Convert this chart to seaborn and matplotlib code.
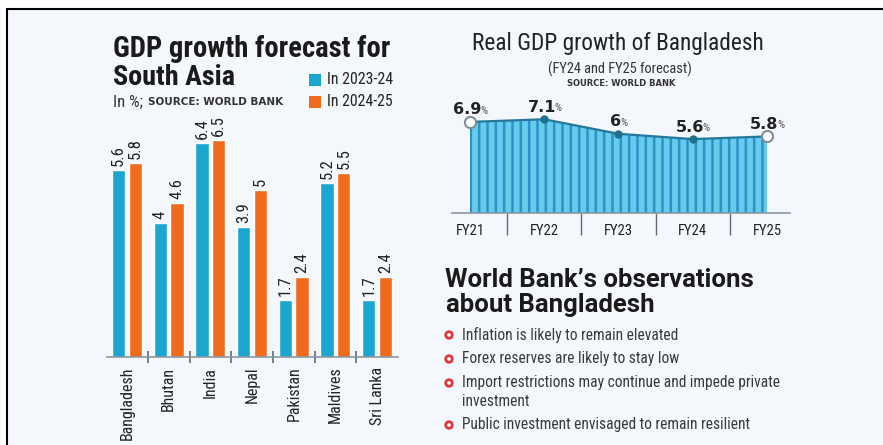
import numpy as np
import pandas as pd
import matplotlib
matplotlib.use("Agg")
import matplotlib.pyplot as plt
import seaborn as sns
from matplotlib import font_manager
from matplotlib.patches import Rectangle, Circle

# ---------------- data ----------------
countries = ["Bangladesh", "Bhutan", "India", "Nepal", "Pakistan", "Maldives", "Sri Lanka"]
gdp_2023_24 = [5.6, 4.0, 6.4, 3.9, 1.7, 5.2, 1.7]
gdp_2024_25 = [5.8, 4.6, 6.5, 5.0, 2.4, 5.5, 2.4]
periods = ["In 2023-24", "In 2024-25"]

fiscal_years = ["FY21", "FY22", "FY23", "FY24", "FY25"]
bd_growth = [6.9, 7.1, 6.0, 5.6, 5.8]

observations = [
    ["Inflation is likely to remain elevated"],
    ["Forex reserves are likely to stay low"],
    ["Import restrictions may continue and impede private", "investment"],
    ["Public investment envisaged to remain resilient"],
]

# ---------------- style ----------------
sns.set_theme(style="white")
avail = {f.name for f in font_manager.fontManager.ttflist}


def pick(*cands):
    for c in cands:
        if c in avail:
            return c
    return "DejaVu Sans"


NARROW = pick("Roboto Condensed", "Liberation Sans Narrow", "Open Sans Condensed", "DejaVu Sans")
WIDE = pick("Roboto", "Open Sans", "DejaVu Sans")
plt.rcParams["font.family"] = [NARROW, "DejaVu Sans"]
plt.rcParams["hatch.linewidth"] = 1.8

BLUE = "#1ba6cf"
ORANGE = "#f26a1e"
GREY = "#8a97a3"
BG = "#f4f7fc"

W, H = 883, 445
fig = plt.figure(figsize=(W / 100, H / 100), dpi=100)
fig.patch.set_facecolor("white")
R = fig.canvas.get_renderer()

fig.patches.append(Rectangle((7 / W, -0.05), 1.0, 1 - 9 / H + 0.05, transform=fig.transFigure,
                             facecolor=BG, edgecolor="black", linewidth=1.5, zorder=-10))


def fx(x):
    return x / W


def fy(y):
    return 1 - y / H


def ftext(x, y, s, width=None, size=10, **kw):
    t = fig.text(fx(x), fy(y), s, fontsize=size, **kw)
    if width:
        w = t.get_window_extent(R).width
        t.set_fontsize(size * width / w)
    return t


# ---------------- left: bar chart ----------------
df = pd.DataFrame({
    "country": countries * 2,
    "period": [periods[0]] * len(countries) + [periods[1]] * len(countries),
    "value": gdp_2023_24 + gdp_2024_25,
})

ax1 = fig.add_axes([107 / W, 88 / H, 291 / W, 233.8 / H])
ax1.set_facecolor("none")
sns.barplot(data=df, x="country", y="value", hue="period", hue_order=periods,
            palette=[BLUE, ORANGE], width=0.8, gap=0.2, saturation=1,
            errorbar=None, legend=False, ax=ax1)
ax1.set_xlim(-0.48, 6.5)
ax1.set_ylim(0, 7)
ax1.set_yticks([])
ax1.set_xlabel("")
ax1.set_ylabel("")
for s in ["top", "right", "left"]:
    ax1.spines[s].set_visible(False)
ax1.spines["bottom"].set_color(GREY)
ax1.spines["bottom"].set_linewidth(1.2)

for cont, vals in zip(ax1.containers, [gdp_2023_24, gdp_2024_25]):
    ax1.bar_label(cont, labels=[f"{v:g}" for v in vals], rotation=90, padding=3,
                  fontsize=12, color="#222222")

ax1.set_xticks(range(len(countries)))
ax1.set_xticklabels(countries, rotation=90, fontsize=11.5, color="#222222")
ax1.set_xticks(np.arange(0.5, len(countries) - 1, 1), minor=True)
ax1.tick_params(axis="x", which="major", length=0, pad=7)
ax1.tick_params(axis="x", which="minor", length=9, width=1.2, direction="inout", color="#5f6b76", bottom=True)

# titles / legend
ftext(113, 57, "GDP growth forecast for", width=277, size=17, weight="bold", color="#1a1a1a")
ftext(113, 85, "South Asia", width=122, size=17, weight="bold", color="#1a1a1a")
ftext(113, 102, "In %;", width=30, size=8, color="#333333", va="center")
ftext(148, 102, "SOURCE: WORLD BANK", width=135, size=5, color="#333333", va="center",
      family="DejaVu Sans", weight="bold")

for (lab, col, yc) in [(periods[0], BLUE, 80), (periods[1], ORANGE, 102)]:
    fig.patches.append(Rectangle((fx(309), fy(yc + 5.5)), 12 / W, 11 / H, transform=fig.transFigure,
                                 facecolor=col, edgecolor="none"))
    ftext(327, yc, lab, width=66, size=9, color="#222222", va="center")

# ---------------- right: area chart ----------------
ax2 = fig.add_axes([452 / W, 232 / H, 338 / W, 105.6 / H])
ax2.set_facecolor("none")
x_idx = np.arange(len(fiscal_years))
ax2.fill_between(x_idx, bd_growth, 0, facecolor="#66cbed", edgecolor="#2d93c6",
                 hatch="||", linewidth=0, zorder=1)
sns.lineplot(x=x_idx, y=bd_growth, ax=ax2, color="#23789c", linewidth=1.6, zorder=3)
yv = np.array(bd_growth)
ends = [0, len(x_idx) - 1]
mids = list(range(1, len(x_idx) - 1))
ax2.plot(x_idx[ends], yv[ends], "o", mfc="white", mec="#7f8d99", ms=8, mew=1.5,
         clip_on=False, zorder=5)
ax2.plot(x_idx[mids], yv[mids], "o", color="#1f6f8f", ms=5, clip_on=False, zorder=5)

ax2.set_xlim(-0.2424, 4.31)
ax2.set_ylim(0, 8)
ax2.set_yticks([])
for s in ["top", "right", "left"]:
    ax2.spines[s].set_visible(False)
ax2.spines["bottom"].set_color(GREY)
ax2.spines["bottom"].set_linewidth(1.2)
ax2.set_xticks(x_idx)
ax2.set_xticklabels(fiscal_years, fontsize=10.5, color="#222222")
ax2.set_xticks(np.arange(0.5, len(x_idx) - 1, 1), minor=True)
ax2.tick_params(axis="x", which="major", length=0, pad=8)
ax2.tick_params(axis="x", which="minor", length=16, width=1.0, direction="out", color="#5f6b76", bottom=True)

# value labels with small %
for i, v in enumerate(bd_growth):
    dx, dy = ax2.transData.transform((x_idx[i], v))
    cy = dy + 12
    t1 = fig.text(0, cy / H, f"{v:g}", fontsize=11.5, weight="bold", color="#222222",
                  va="center", ha="left", family=["DejaVu Sans"])
    t2 = fig.text(0, (cy - 1) / H, "%", fontsize=8, color="#555555", va="center", ha="left")
    w1 = t1.get_window_extent(R).width
    w2 = t2.get_window_extent(R).width
    x0 = dx - (w1 + w2) / 2 + 1
    t1.set_x(x0 / W)
    t2.set_x((x0 + w1 - 1.5) / W)

ftext(472, 50, "Real GDP growth of Bangladesh", width=291, size=13, color="#222222")
ftext(548, 69, "(FY24 and FY25 forecast)", width=145, size=8, color="#333333", va="center")
ftext(567, 83, "SOURCE: WORLD BANK", width=110, size=5, color="#333333", va="center",
      family="DejaVu Sans", weight="bold")

# ---------------- observations ----------------
h1 = ftext(445, 287, "World Bank\u2019s observations", width=308, size=17, weight="bold",
           color="#1a1a1a", family=[WIDE, "DejaVu Sans"])
ftext(446, 312, "about Bangladesh", size=h1.get_fontsize(), weight="bold", color="#1a1a1a",
      family=[WIDE, "DejaVu Sans"])

ref = ftext(462, 335, observations[0][0], width=218, size=9, color="#3a3a3a", va="center")
obs_size = ref.get_fontsize()
ref.remove()
ys = [335, 359, 383, 425]
for lines, y in zip(observations, ys):
    fig.patches.append(Circle((449 / 100, (H - y) / 100), radius=3.3 / 100,
                              transform=fig.dpi_scale_trans,
                              facecolor=BG, edgecolor="#e0383b", linewidth=2.0))
    for k, line in enumerate(lines):
        ftext(462, y + k * 19, line, size=obs_size, color="#3a3a3a", va="center")

fig.savefig("out.png", dpi=100, facecolor=fig.get_facecolor())
